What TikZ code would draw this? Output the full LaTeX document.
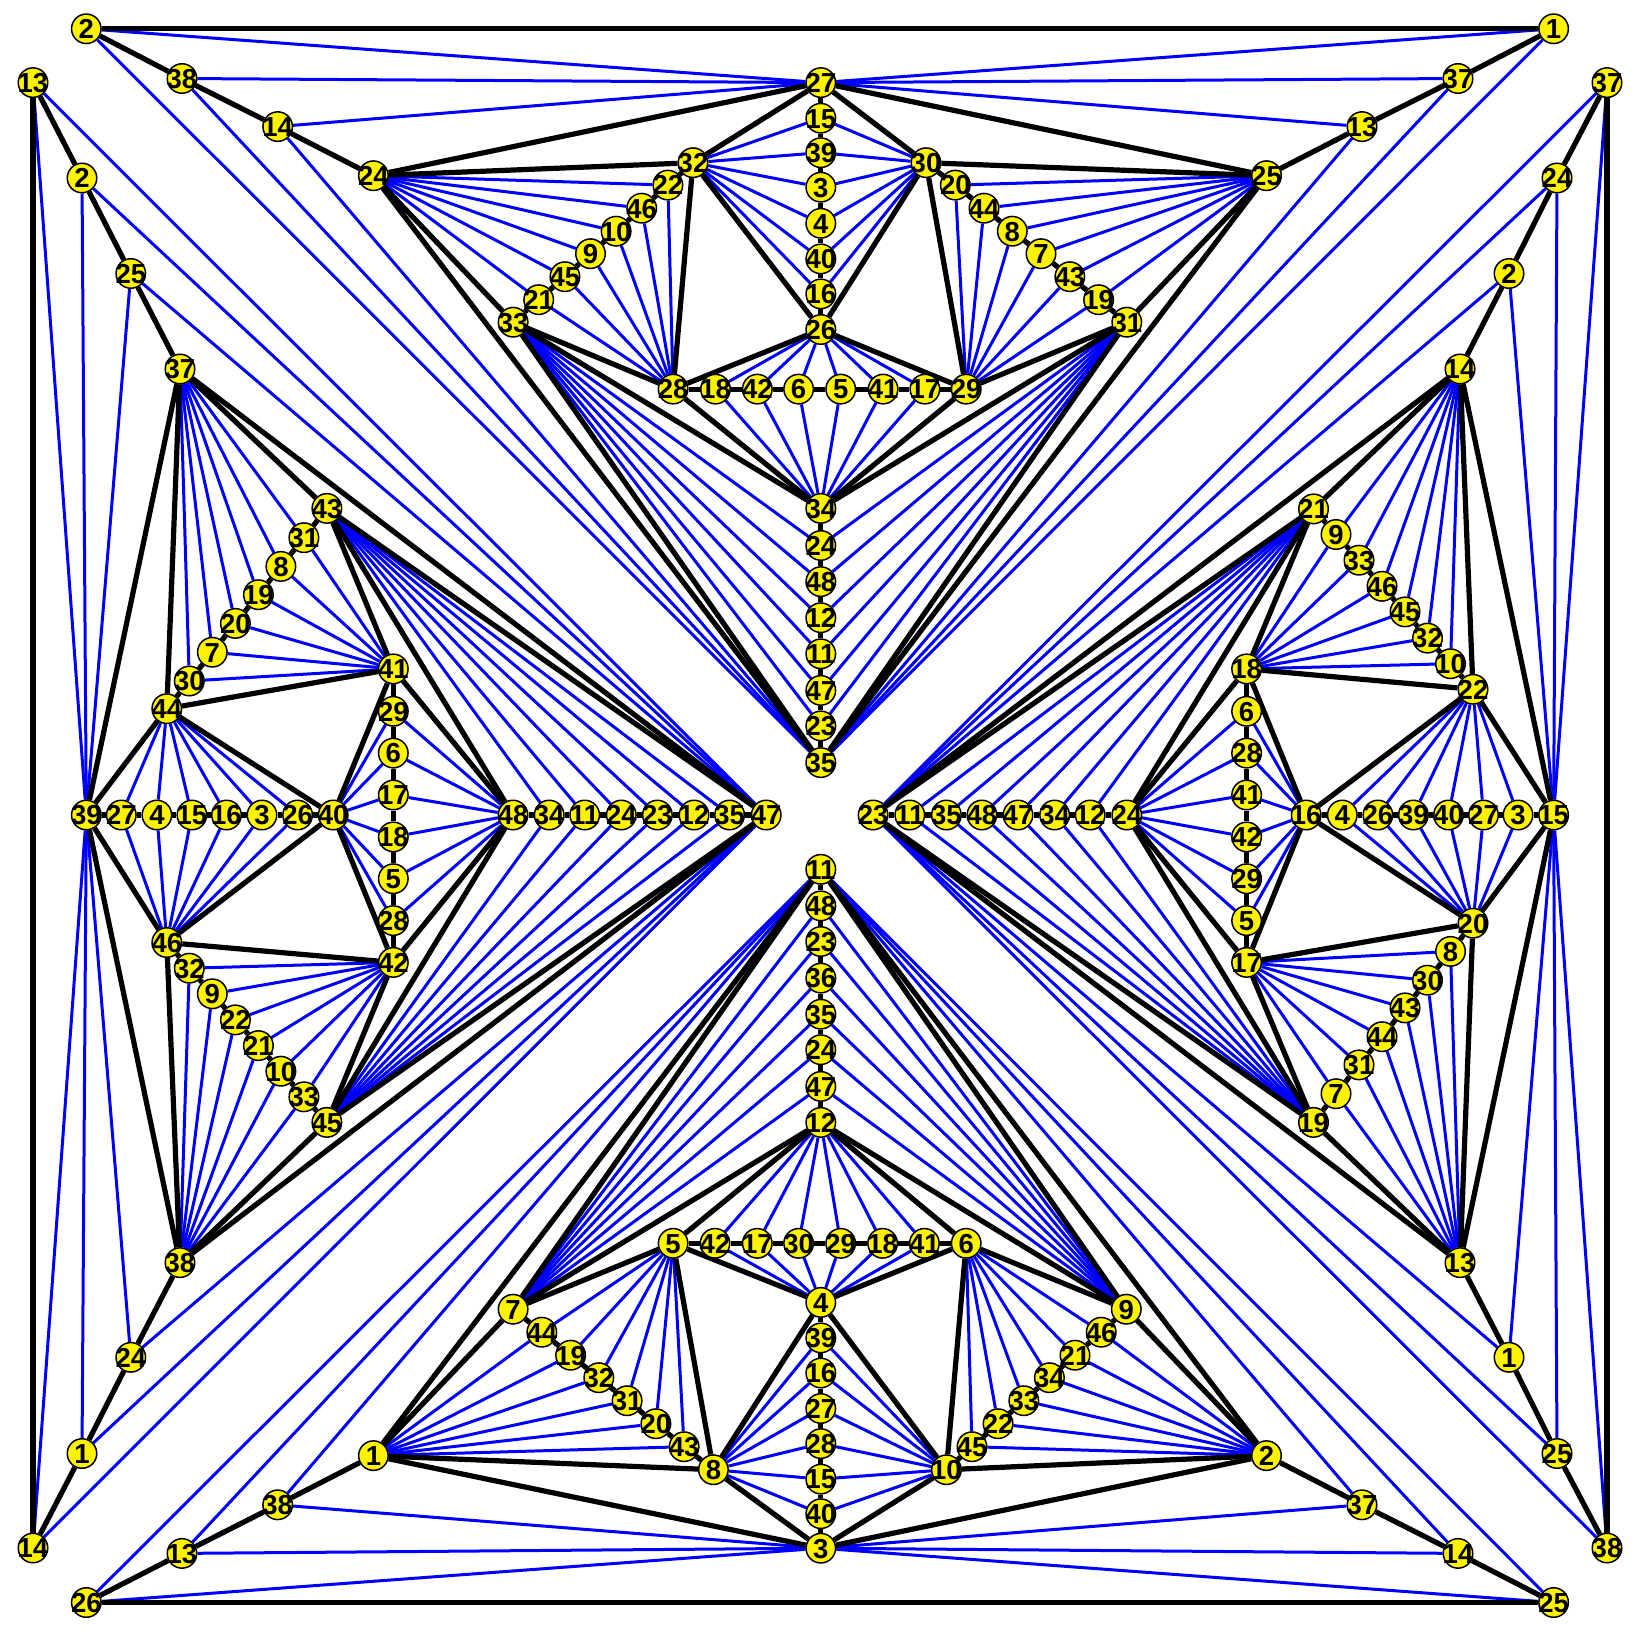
\documentclass[tikz,border=0pt]{standalone}
\usepackage{fontspec}
\setmainfont{Liberation Sans}
\pgfdeclarelayer{edges}
\pgfsetlayers{edges,main}
\tikzset{
 x=1pt,y=-1pt,
 vtx/.style={circle,draw=black,fill=yellow,line width=1.5pt,inner sep=0pt,minimum size=29.5pt,font=\fontsize{27.5}{27.5}\selectfont\bfseries},
 thick edge/.style={draw=black,line width=5.2pt},
 thin edge/.style={draw=blue,line width=3pt},
}
\newcommand{\fan}[2]{\foreach \h in {#1} \foreach \t in {#2} \draw[thin edge] (\h) -- (\t);}
\newcommand{\blk}[1]{\foreach \p/\q in {#1} \draw[thick edge] (\p) -- (\q);}
\newcommand{\vts}[2]{\foreach \n/\px/\py in #2 {\node[vtx] (#1\n) at (\px,\py) {\makebox[0pt][c]{\smash{\n}}\vphantom{\rule{0pt}{19.7pt}}};}}
\begin{document}
\begin{tikzpicture}
\useasboundingbox (0,0) rectangle (1633,1637);
\def\aL{2/86.3/28.8,38/182/78.5,14/277.7/126.6,24/373.4/175.7}
\def\bL{1/1553.6/28.8,37/1458/78.5,13/1362/126.6,25/1266.5/175.7}
\def\cL{13/33/82.6,2/82/178,25/130.8/273.5,37/180/369}
\def\dL{14/33/1548,1/82/1453.5,24/130.8/1357.3,38/180/1262.6}
\def\eL{37/1607/82.6,24/1557/178,2/1509/273.5,14/1460/369}
\def\fL{38/1607/1548,25/1557/1453.5,1/1509/1357.3,13/1460/1262.6}
\def\gL{26/86.3/1602.5,13/182/1553.4,38/277.7/1504.8,1/373.4/1455.6}
\def\hL{25/1553.6/1602.5,14/1458/1553.4,37/1362/1504.8,2/1266.5/1455.6}
\def\TL{27/820.8/82.6,15/820.8/118.2,39/820.8/152.7,3/820.8/187.2,4/820.8/223.3,40/820.8/258.9,16/820.8/293.9,26/820.8/329.5,34/820.8/508.4,24/820.8/545.5,48/820.8/581.6,12/820.8/617.7,11/820.8/653.8,47/820.8/690.4,23/820.8/725.9,35/820.8/762.6,28/673.1/389.1,18/715.5/389.1,42/757.3/389.1,6/798.6/389.1,5/840.7/389.1,41/883.1/389.1,17/924.9/389.1,29/966.2/389.1,32/693/162.7,22/667.9/185.1,46/641.7/208.2,10/616.1/231.2,9/590.5/253.7,45/564.9/276.7,21/538.7/299.7,33/513.1/322.2,30/926/162.7,20/955.3/185.1,44/984/208.2,8/1012.3/231.2,7/1041/253.7,43/1069.8/276.7,19/1098.6/299.7,31/1126.8/322.2}
\def\LL{39/86.3/815,27/121.3/815,4/156.9/815,15/191.9/815,16/226.5/815,3/262/815,26/297.6/815,40/333.2/815,48/513/815,34/549.2/815,11/584.7/815,24/621.3/815,23/657.4/815,12/694/815,35/729.6/815,47/766.2/815,41/393.3/668.9,29/393.3/711.3,6/393.3/753.1,17/393.3/795,18/393.3/836.9,5/393.3/878.7,28/393.3/920.6,42/393.3/962.4,44/166.8/708.7,30/189.3/681,7/212.3/652.2,20/235.4/623.4,19/258.4/594.7,8/280.9/566.4,31/303.9/537.7,43/326.9/508.4,46/166.8/942.5,32/189.3/968.2,9/212.3/993.8,22/235.4/1019.9,21/258.4/1045.6,10/280.9/1071.2,33/303.9/1096.8,45/326.9/1122.4}
\def\RL{23/873.1/815,11/909.8/815,35/946.4/815,48/981.9/815,47/1018/815,34/1054.6/815,12/1090.2/815,24/1126.8/815,16/1306.2/815,4/1342.3/815,26/1377.9/815,39/1413.4/815,40/1448.5/815,27/1483.5/815,3/1518/815,15/1553.6/815,18/1246.6/668.9,6/1246.6/711.3,28/1246.6/753.1,41/1246.6/795,42/1246.6/836.9,29/1246.6/878.7,5/1246.6/920.6,17/1246.6/962.4,21/1313.5/508.9,9/1336/534.5,33/1359/560.2,46/1382/586.3,45/1405/611.9,32/1427.5/638.1,10/1450.5/663.7,22/1473/689.3,20/1473/923.2,8/1450.5/951.4,30/1427.5/980.2,43/1405/1007.9,44/1382/1036.7,31/1359/1064.9,7/1336/1093.7,19/1313.5/1122.4}
\def\BL{11/820.8/869.3,48/820.8/905.9,23/820.8/941.5,36/820.8/978.1,35/820.8/1014.2,24/820.8/1049.7,47/820.8/1086.4,12/820.8/1122.4,4/820.8/1302.4,39/820.8/1337.9,16/820.8/1373,27/820.8/1408.5,28/820.8/1443.6,15/820.8/1479.1,40/820.8/1513.7,3/820.8/1548.2,5/673.1/1243.3,42/715/1243.3,17/757.3/1243.3,30/798.6/1243.3,29/840.7/1243.3,18/882.6/1243.3,41/924.4/1243.3,6/966.2/1243.3,7/513.1/1309.2,44/541.8/1332.2,19/570.6/1355.2,32/598.8/1377.7,31/627.1/1400.7,20/655.9/1423.7,43/684.1/1446.7,8/713.4/1469.7,9/1126.3/1309.2,46/1101.2/1332.2,21/1075/1355.2,34/1049.4/1377.7,33/1023.8/1400.7,22/998.1/1423.7,45/972/1446.7,10/946.4/1469.7}
% named vertices
\vts{a}{\aL}
\vts{b}{\bL}
\vts{c}{\cL}
\vts{d}{\dL}
\vts{e}{\eL}
\vts{f}{\fL}
\vts{g}{\gL}
\vts{h}{\hL}
\vts{T}{\TL}
\vts{L}{\LL}
\vts{R}{\RL}
\vts{B}{\BL}
\begin{pgfonlayer}{edges}
% ---------- blue edges
\fan{T27}{a2,a38,a14,b1,b37,b13}
\fan{B3}{g26,g13,g38,h25,h14,h37}
\fan{L39}{c13,c2,c25,d14,d1,d24}
\fan{R15}{e37,e24,e2,f38,f25,f1}
\fan{T35}{a2,a38,a14,b1,b37,b13}
\fan{L47}{c13,c2,c25,d14,d1,d24}
\fan{R23}{e37,e24,e2,f38,f25,f1}
\fan{B11}{g26,g13,g38,h25,h14,h37}
% top
\fan{a24,T28}{T22,T46,T10,T9,T45,T21}
\fan{b25,T29}{T20,T44,T8,T7,T43,T19}
\fan{T32,T30}{T15,T39,T3,T4,T40,T16}
\fan{T26,T34}{T18,T42,T6,T5,T41,T17}
\fan{T33,T31}{T24,T48,T12,T11,T47,T23}
% left
\fan{c37,L41}{L30,L7,L20,L19,L8,L31}
\fan{d38,L42}{L32,L9,L22,L21,L10,L33}
\fan{L44,L46}{L27,L4,L15,L16,L3,L26}
\fan{L40,L48}{L29,L6,L17,L18,L5,L28}
\fan{L43,L45}{L34,L11,L24,L23,L12,L35}
% right
\fan{e14,R18}{R9,R33,R46,R45,R32,R10}
\fan{f13,R17}{R8,R30,R43,R44,R31,R7}
\fan{R22,R20}{R4,R26,R39,R40,R27,R3}
\fan{R16,R24}{R6,R28,R41,R42,R29,R5}
\fan{R21,R19}{R11,R35,R48,R47,R34,R12}
% bottom
\fan{g1,B5}{B44,B19,B32,B31,B20,B43}
\fan{h2,B6}{B46,B21,B34,B33,B22,B45}
\fan{B8,B10}{B39,B16,B27,B28,B15,B40}
\fan{B4,B12}{B42,B17,B30,B29,B18,B41}
\fan{B7,B9}{B48,B23,B36,B35,B24,B47}
% ---------- black edges
\blk{a2/b1,g26/h25,c13/d14,e37/f38,
 a2/a38,a38/a14,a14/a24,b1/b37,b37/b13,b13/b25,
 c13/c2,c2/c25,c25/c37,d14/d1,d1/d24,d24/d38,
 e37/e24,e24/e2,e2/e14,f38/f25,f25/f1,f1/f13,
 g26/g13,g13/g38,g38/g1,h25/h14,h14/h37,h37/h2}
\blk{T27/T15,T15/T39,T39/T3,T3/T4,T4/T40,T40/T16,T16/T26,T34/T24,T24/T48,T48/T12,T12/T11,T11/T47,T47/T23,T23/T35,
 T28/T18,T18/T42,T42/T6,T6/T5,T5/T41,T41/T17,T17/T29,
 T32/T22,T22/T46,T46/T10,T10/T9,T9/T45,T45/T21,T21/T33,
 T30/T20,T20/T44,T44/T8,T8/T7,T7/T43,T43/T19,T19/T31}
\blk{a24/T27,a24/T32,a24/T33,a24/T35,b25/T27,b25/T30,b25/T31,b25/T35,
 T32/T27,T30/T27,T32/T26,T30/T26,T32/T28,T30/T29,T28/T26,T29/T26,T28/T34,T29/T34,
 T33/T28,T31/T29,T33/T34,T31/T34,T33/T35,T31/T35}
\blk{L39/L27,L27/L4,L4/L15,L15/L16,L16/L3,L3/L26,L26/L40,L48/L34,L34/L11,L11/L24,L24/L23,L23/L12,L12/L35,L35/L47,
 L41/L29,L29/L6,L6/L17,L17/L18,L18/L5,L5/L28,L28/L42,
 L44/L30,L30/L7,L7/L20,L20/L19,L19/L8,L8/L31,L31/L43,
 L46/L32,L32/L9,L9/L22,L22/L21,L21/L10,L10/L33,L33/L45}
\blk{c37/L39,c37/L44,c37/L43,c37/L47,d38/L39,d38/L46,d38/L45,d38/L47,
 L44/L39,L46/L39,L44/L40,L46/L40,L44/L41,L46/L42,L41/L40,L42/L40,L41/L48,L42/L48,
 L43/L41,L45/L42,L43/L48,L45/L48,L43/L47,L45/L47}
\blk{R23/R11,R11/R35,R35/R48,R48/R47,R47/R34,R34/R12,R12/R24,R16/R4,R4/R26,R26/R39,R39/R40,R40/R27,R27/R3,R3/R15,
 R18/R6,R6/R28,R28/R41,R41/R42,R42/R29,R29/R5,R5/R17,
 R21/R9,R9/R33,R33/R46,R46/R45,R45/R32,R32/R10,R10/R22,
 R20/R8,R8/R30,R30/R43,R43/R44,R44/R31,R31/R7,R7/R19}
\blk{e14/R15,e14/R22,e14/R21,e14/R23,f13/R15,f13/R20,f13/R19,f13/R23,
 R22/R15,R20/R15,R22/R16,R20/R16,R22/R18,R20/R17,R18/R16,R17/R16,R18/R24,R17/R24,
 R21/R18,R19/R17,R21/R24,R19/R24,R21/R23,R19/R23}
\blk{B11/B48,B48/B23,B23/B36,B36/B35,B35/B24,B24/B47,B47/B12,B4/B39,B39/B16,B16/B27,B27/B28,B28/B15,B15/B40,B40/B3,
 B5/B42,B42/B17,B17/B30,B30/B29,B29/B18,B18/B41,B41/B6,
 B7/B44,B44/B19,B19/B32,B32/B31,B31/B20,B20/B43,B43/B8,
 B9/B46,B46/B21,B21/B34,B34/B33,B33/B22,B22/B45,B45/B10}
\blk{g1/B3,g1/B8,g1/B7,g1/B11,h2/B3,h2/B10,h2/B9,h2/B11,
 B8/B3,B10/B3,B8/B4,B10/B4,B8/B5,B10/B6,B5/B4,B6/B4,B5/B12,B6/B12,
 B7/B5,B9/B6,B7/B12,B9/B12,B7/B11,B9/B11}
\end{pgfonlayer}
\end{tikzpicture}
\end{document}
